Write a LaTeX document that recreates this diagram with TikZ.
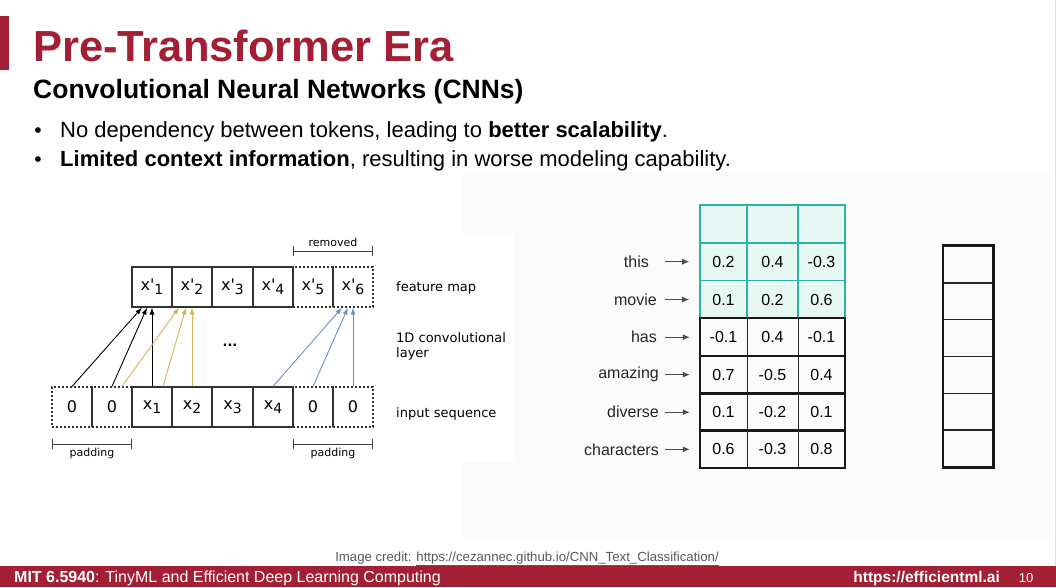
\documentclass[tikz,border=0pt]{standalone}
\usepackage{fontspec}
\setmainfont{Liberation Sans}
\newfontfamily\verd{DejaVu Sans}
\usetikzlibrary{arrows.meta,calc}
\definecolor{mitred}{HTML}{A31F34}
\definecolor{tealline}{HTML}{2DB3A5}
\definecolor{tealfill}{HTML}{E6F7F4}
\definecolor{yarrow}{HTML}{D8B55B}
\definecolor{barrow}{HTML}{6D8FC4}
\definecolor{bggray}{HTML}{FBFBFB}
\newcommand{\sbx}[1]{\raisebox{-4pt}{\fontsize{14}{14}\selectfont #1}}
\tikzset{
  cell/.style={draw=black!80, line width=1.1pt, minimum width=40pt, minimum height=40pt, inner sep=0pt, font=\verd\fontsize{16}{16}\selectfont},
  dcell/.style={cell, dash pattern=on 2pt off 2pt},
  carrow/.style={line width=0.9pt, -{Latex[length=7pt,width=5pt]}},
  lbl/.style={anchor=west, font=\verd\fontsize{13}{15}\selectfont, align=left, inner sep=0pt},
  smalllbl/.style={font=\verd\fontsize{11}{11}\selectfont, inner sep=0pt},
  brk/.style={line width=0.8pt, black!75, {Bar[width=10pt]}-{Bar[width=10pt]}},
  tcell/.style={draw=tealline, fill=tealfill, line width=1.6pt, inner sep=0pt, font=\fontsize{16}{16}\selectfont},
  ncell/.style={inner sep=0pt, font=\fontsize{16}{16}\selectfont},
  word/.style={anchor=east, inner sep=0pt, text=black!85, font=\fontsize{16}{16}\selectfont},
  warrow/.style={line width=1.1pt, black!70, -{Latex[length=7pt,width=6pt]}},
  vcell/.style={draw=black!85, line width=1.4pt, minimum width=49pt, minimum height=36.8pt, inner sep=0pt},
}
\begin{document}
\begin{tikzpicture}[x=1pt,y=-1pt]
\useasboundingbox (0,0) rectangle (1056,587);
\fill[white] (0,0) rectangle (1056,587);
\fill[bggray] (463,172) rectangle (1054,537);
\fill[white] (40,233) rectangle (515,462);
\draw[black!12, line width=0.8pt] (1055.5,0) -- (1055.5,566);

% header
\fill[mitred] (0,16) rectangle (9,70);
\node[anchor=base west, inner sep=0pt, text=mitred, font=\bfseries\fontsize{43.5}{43.5}\selectfont] (title) at (33,61) {Pre-Transformer Era};
\node[anchor=base west, inner sep=0pt, font=\bfseries\fontsize{26.5}{26.5}\selectfont] (sub) at (33,98) {Convolutional Neural Networks (CNNs)};
\node[anchor=base, inner sep=0pt, font=\fontsize{21}{21}\selectfont] (b1) at (38,137) {•};
\node[anchor=base west, inner sep=0pt, font=\fontsize{22}{22}\selectfont] (t1) at (60,137) {No dependency between tokens, leading to \textbf{better scalability}.};
\node[anchor=base, inner sep=0pt, font=\fontsize{21}{21}\selectfont] (b2) at (38,166) {•};
\node[anchor=base west, inner sep=0pt, font=\fontsize{22}{22}\selectfont] (t2) at (60,166) {\textbf{Limited context information}, resulting in worse modeling capability.};

% left diagram: input sequence
\node[dcell] (i1) at (72,407) {0};
\node[dcell] (i2) at (112,407) {0};
\node[dcell] (i7) at (313,407) {0};
\node[dcell] (i8) at (353,407) {0};
\node[cell] (x1) at (152,407) {x\sbx{1}};
\node[cell] (x2) at (192,407) {x\sbx{2}};
\node[cell] (x3) at (232.5,407) {x\sbx{3}};
\node[cell] (x4) at (273,407) {x\sbx{4}};
% feature map
\node[dcell] (f5) at (313,287) {x'\sbx{5}};
\node[dcell] (f6) at (353,287) {x'\sbx{6}};
\node[cell] (f1) at (152,287) {x'\sbx{1}};
\node[cell] (f2) at (192,287) {x'\sbx{2}};
\node[cell] (f3) at (232.5,287) {x'\sbx{3}};
\node[cell] (f4) at (273,287) {x'\sbx{4}};
% connections
\draw[carrow, black] (i1.north) -- ([xshift=-10pt]f1.south);
\draw[carrow, black] (i2.north) -- ([xshift=-5pt]f1.south);
\draw[carrow, black] (x1.north) -- (f1.south);
\draw[carrow, yarrow] ([xshift=10pt]i2.north) -- ([xshift=-13pt]f2.south);
\draw[carrow, yarrow] ([xshift=11pt]x1.north) -- ([xshift=-6pt]f2.south);
\draw[carrow, yarrow] (x2.north) -- (f2.south);
\draw[carrow, barrow] (x4.north) -- ([xshift=-11pt]f6.south);
\draw[carrow, barrow] (i7.north) -- ([xshift=-5pt]f6.south);
\draw[carrow, barrow] (i8.north) -- (f6.south);
\node[font=\verd\bfseries\fontsize{13}{13}\selectfont, inner sep=0pt] (dots) at (230,345) {...};
% brackets
\coordinate (pl1) at (52,444); \coordinate (pl2) at (132,444);
\coordinate (pr1) at (293,444); \coordinate (pr2) at (373,444);
\coordinate (rm1) at (293,251); \coordinate (rm2) at (373,251);
\draw[brk] (pl1) -- (pl2);
\draw[brk] (pr1) -- (pr2);
\draw[brk] (rm1) -- (rm2);
\node[smalllbl] (padl) at (92,453) {padding};
\node[smalllbl] (padr) at (333,453) {padding};
\node[smalllbl] (rem) at (333,242) {removed};
\node[lbl] (lfm) at (396,288) {feature map};
\node[lbl] (lconv) at (396,346) {1D convolutional\\layer};
\node[lbl] (lin) at (396,414) {input sequence};

% right table
\def\ca{723.5}\def\cb{772.5}\def\cc{821.5}
\foreach \r/\y in {0/223.8,1/261.7,2/299.5}{
  \node[tcell, minimum width=47pt, minimum height=37.7pt] (c\r1) at (\ca,\y) {};
  \node[tcell, minimum width=51pt, minimum height=37.7pt] (c\r2) at (\cb,\y) {};
  \node[tcell, minimum width=47pt, minimum height=37.7pt] (c\r3) at (\cc,\y) {};
}
\node[ncell] at (c11) {0.2}; \node[ncell] at (c12) {0.4}; \node[ncell] at (c13) {-0.3};
\node[ncell] at (c21) {0.1}; \node[ncell] at (c22) {0.2}; \node[ncell] at (c23) {0.6};
\foreach \r/\y/\a/\b/\c in {3/337.2/-0.1/0.4/-0.1, 4/374.7/0.7/-0.5/0.4, 5/412.2/0.1/-0.2/0.1, 6/449.3/0.6/-0.3/0.8}{
  \node[ncell, minimum width=47pt, minimum height=37.5pt] (c\r1) at (\ca,\y) {\a};
  \node[ncell, minimum width=51pt, minimum height=37.5pt] (c\r2) at (\cb,\y) {\b};
  \node[ncell, minimum width=47pt, minimum height=37.5pt] (c\r3) at (\cc,\y) {\c};
  \draw[line width=1pt, black!85] (c\r1.north east) -- (c\r1.south east);
  \draw[line width=1pt, black!85] (c\r2.north east) -- (c\r2.south east);
  \draw[line width=1.8pt, black!90] (c\r1.north west) rectangle (c\r3.south east);
}
% words
\node[word] (w1) at (649,261.7) {this};
\node[word] (w2) at (657,299.5) {movie};
\node[word] (w3) at (657,337.2) {has};
\node[word] (w4) at (659,374.7) {amazing};
\node[word] (w5) at (659,412.2) {diverse};
\node[word] (w6) at (659,449.3) {characters};
\draw[warrow] ([xshift=16pt]w1.east) -- ([xshift=-10pt]c11.west);
\draw[warrow] ([xshift=8pt]w2.east) -- ([xshift=-10pt]c21.west);
\draw[warrow] ([xshift=8pt]w3.east) -- ([xshift=-10pt]c31.west);
\draw[warrow] ([xshift=6pt]w4.east) -- ([xshift=-10pt]c41.west);
\draw[warrow] ([xshift=6pt]w5.east) -- ([xshift=-10pt]c51.west);
\draw[warrow] ([xshift=6pt]w6.east) -- ([xshift=-10pt]c61.west);

% output column
\foreach \k in {0,...,5}{
  \node[vcell] (v\k) at (968, {246+18.4+36.8*\k}) {};
}
\draw[line width=2.6pt, black!90] (v0.north west) rectangle (v5.south east);

% footer
\node[anchor=base, inner sep=0pt, text=black!65, font=\fontsize{13.2}{13.2}\selectfont] (credit) at (527,561) {Image credit: \underline{https://cezannec.github.io/CNN\_Text\_Classification/}};
\fill[mitred] (0,566) rectangle (1056,587);
\node[anchor=base west, inner sep=0pt, text=white, font=\fontsize{16}{16}\selectfont] (course) at (14,582) {\textbf{MIT 6.5940}: TinyML and Efficient Deep Learning Computing};
\node[anchor=base east, inner sep=0pt, text=white, font=\bfseries\fontsize{15.5}{15.5}\selectfont] (url) at (1000,582) {https://efficientml.ai};
\node[anchor=base, inner sep=0pt, text=white, font=\fontsize{13}{13}\selectfont] (pg) at (1026,582) {10};
\end{tikzpicture}
\end{document}
